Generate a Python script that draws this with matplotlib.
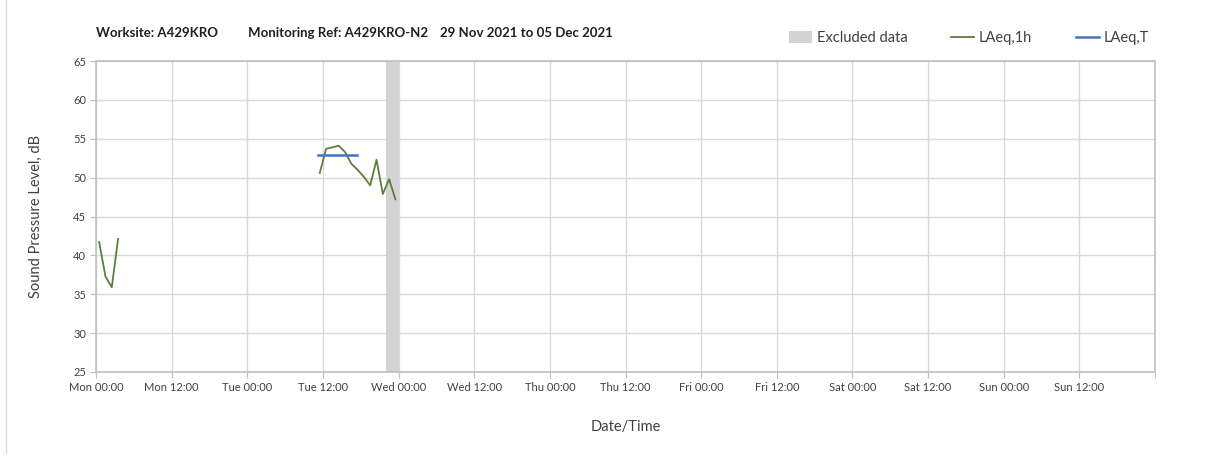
import matplotlib
matplotlib.use("Agg")
import matplotlib.pyplot as plt
from matplotlib.lines import Line2D
from matplotlib.patches import Patch

plt.rcParams['font.family'] = ['Lato', 'DejaVu Sans']

# hours since Mon 29 Nov 2021 00:00
hours_a = [0.5, 1.5, 2.5, 3.5]
laeq_1h_a = [41.7, 37.3, 35.9, 42.1]
hours_b = [35.5, 36.5, 37.5, 38.5, 39.5, 40.5, 41.5, 42.5, 43.5, 44.5, 45.5, 46.5, 47.5]
laeq_1h_b = [50.6, 53.7, 53.9, 54.1, 53.3, 51.8, 51.0, 50.1, 49.0, 52.3, 47.9, 49.8, 47.2]
laeq_t_hours = [35.2, 41.4]
laeq_t_value = [52.9, 52.9]
excluded_start, excluded_end = 46.0, 48.0

tick_hours = list(range(0, 168, 12))
tick_labels = ["Mon 00:00", "Mon 12:00", "Tue 00:00", "Tue 12:00", "Wed 00:00",
               "Wed 12:00", "Thu 00:00", "Thu 12:00", "Fri 00:00", "Fri 12:00",
               "Sat 00:00", "Sat 12:00", "Sun 00:00", "Sun 12:00"]

green = "#5E7D3E"
blue = "#4472C4"
grey_band = "#D3D3D3"
grid_c = "#D9D9D9"
axis_c = "#BFBFBF"
text_c = "#404040"

fig = plt.figure(figsize=(12.12, 4.59), dpi=100)
ax = fig.add_axes([96 / 1212, 1 - 372 / 459, (1155 - 96) / 1212, (372 - 61) / 459])

ax.axvspan(excluded_start, excluded_end, color=grey_band, lw=0, zorder=1)
ax.plot(hours_a, laeq_1h_a, color=green, lw=1.3, zorder=3)
ax.plot(hours_b, laeq_1h_b, color=green, lw=1.3, zorder=3)
ax.plot(laeq_t_hours, laeq_t_value, color=blue, lw=1.8, zorder=4)

ax.set_xlim(0, 168)
ax.set_ylim(25, 65)
ax.set_xticks(tick_hours)
ax.set_xticklabels(tick_labels)
ax.set_xticks([168], minor=True)
ax.set_yticks(range(25, 66, 5))
ax.grid(True, color=grid_c, lw=1, zorder=0)
ax.set_axisbelow(True)
for s in ax.spines.values():
    s.set_color(axis_c)
    s.set_linewidth(1.2)
ax.tick_params(axis='both', which='both', length=4, color=axis_c, labelsize=8, labelcolor=text_c, pad=3)
ax.tick_params(axis='x', which='minor', length=4)

ax.set_xlabel("Date/Time", fontsize=10.5, color=text_c, labelpad=20)
ax.set_ylabel("Sound Pressure Level, dB", fontsize=10.5, color=text_c, labelpad=22)

title_y = 1 - 33 / 459
title_kw = dict(fontsize=9.5, fontweight='bold', color="#202020", va='center')
fig.text(96 / 1212, title_y, "Worksite: A429KRO", **title_kw)
fig.text(248 / 1212, title_y, "Monitoring Ref: A429KRO-N2", **title_kw)
fig.text(440 / 1212, title_y, "29 Nov 2021 to 05 Dec 2021", **title_kw)

handles = [Patch(facecolor=grey_band, edgecolor='none'),
           Line2D([], [], color=green, lw=1.3),
           Line2D([], [], color=blue, lw=1.8)]
fig.legend(handles, ["Excluded data", "LAeq,1h", "LAeq,T"], loc='center right',
           bbox_to_anchor=(1162 / 1212, 1 - 38 / 459), ncol=3, frameon=False,
           fontsize=10.5, labelcolor=text_c, handlelength=1.6, handletextpad=0.3,
           columnspacing=3.0, handleheight=0.9)

fig.add_artist(Line2D([6 / 1212, 6 / 1212], [1 - 452 / 459, 1.0], color="#D9D9D9", lw=1))

fig.savefig("out.png", dpi=100)
